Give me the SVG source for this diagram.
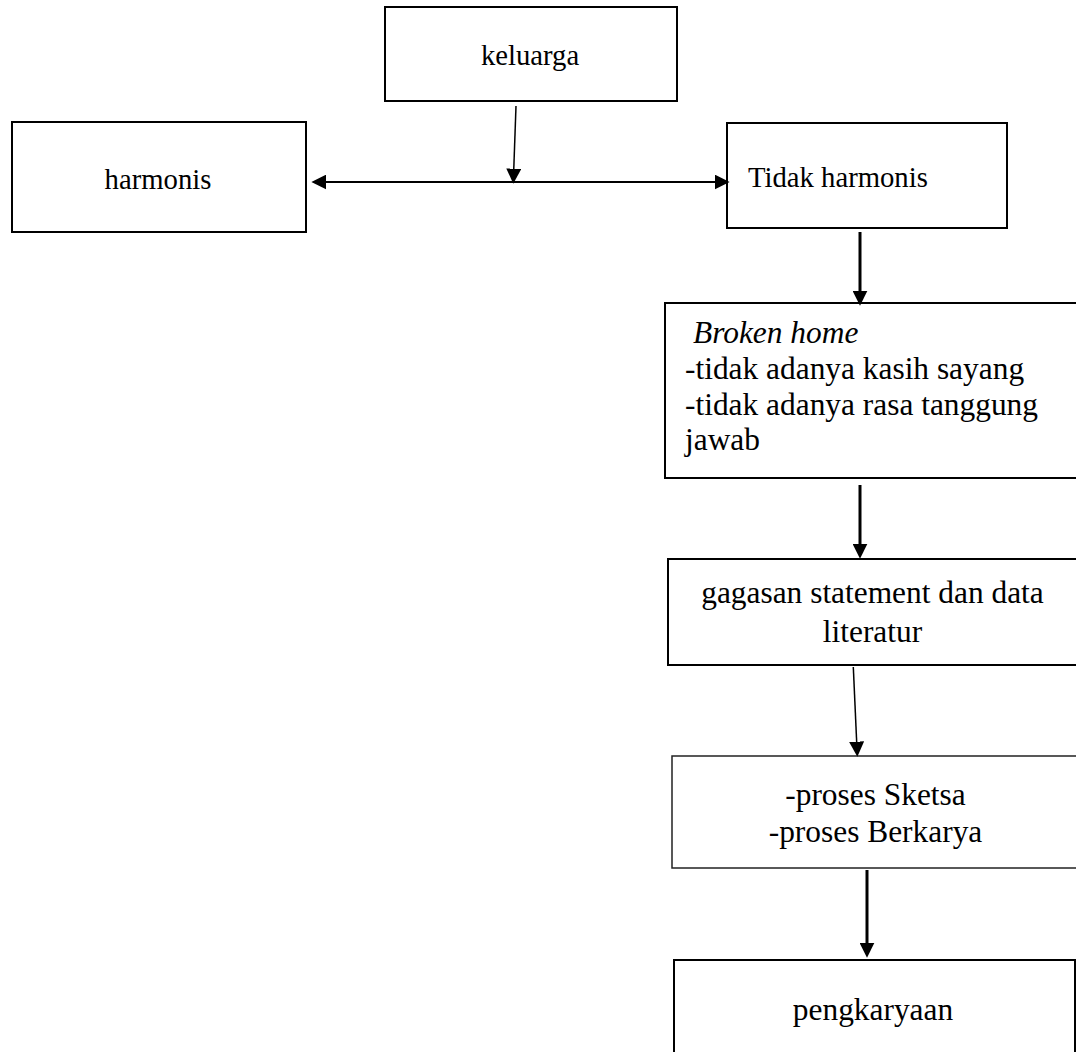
<svg xmlns="http://www.w3.org/2000/svg" width="1076" height="1052" viewBox="0 0 1076 1052">
<style>
.box{fill:#fff;stroke:#000;stroke-width:2}
.thin{stroke-width:1.5;stroke:#222}
.t{font-family:"Liberation Serif","Times New Roman",serif;fill:#000}
.s1{font-size:28.7px}
.s2{font-size:31.4px}
.c{stroke:#000;fill:none}
</style>
<defs>
<marker id="ah" markerUnits="userSpaceOnUse" markerWidth="15" markerHeight="15" viewBox="0 0 14 14" refX="5" refY="7" orient="auto-start-reverse">
<path d="M0,0 L14,7 L0,14 z" fill="#000"/>
</marker>
</defs>
<rect width="1076" height="1052" fill="#fff"/>
<g id="keluarga"><rect class="box" x="385" y="7" width="292" height="94"/><text class="t s1" x="530" y="65" text-anchor="middle">keluarga</text></g>
<g id="harmonis"><rect class="box" x="12" y="122" width="294" height="110"/><text class="t s1" x="158" y="189" text-anchor="middle">harmonis</text></g>
<g id="tidak-harmonis"><rect class="box" x="727" y="123" width="280" height="105"/><text class="t s1" x="748" y="187">Tidak harmonis</text></g>
<g id="broken-home"><rect class="box" x="665" y="303" width="430" height="175"/>
<text class="t s2" x="693" y="343" font-style="italic">Broken home</text>
<text class="t s2" x="685" y="379">-tidak adanya kasih sayang</text>
<text class="t s2" x="685" y="415">-tidak adanya rasa tanggung</text>
<text class="t s2" x="685" y="450">jawab</text></g>
<g id="gagasan"><rect class="box" x="668" y="559" width="430" height="106"/>
<text class="t s2" x="872.5" y="603" text-anchor="middle">gagasan statement dan data</text>
<text class="t s2" x="872.5" y="642" text-anchor="middle">literatur</text></g>
<g id="proses"><rect class="box thin" x="672" y="756" width="430" height="112"/>
<text class="t s2" x="875.5" y="805" text-anchor="middle">-proses Sketsa</text>
<text class="t s2" x="875.5" y="842" text-anchor="middle">-proses Berkarya</text></g>
<g id="pengkaryaan"><rect class="box" x="674" y="960" width="401" height="110"/>
<text class="t s2" x="873" y="1020" text-anchor="middle">pengkaryaan</text></g>
<g id="connectors">
<line class="c" x1="516" y1="106" x2="513.6" y2="174" stroke-width="1.5" marker-end="url(#ah)"/>
<line class="c" x1="321" y1="182" x2="720" y2="182" stroke-width="2" marker-start="url(#ah)" marker-end="url(#ah)"/>
<line class="c" x1="860" y1="232" x2="860" y2="296" stroke-width="3" marker-end="url(#ah)"/>
<line class="c" x1="860" y1="485" x2="860" y2="549" stroke-width="3" marker-end="url(#ah)"/>
<line class="c" x1="853.3" y1="667" x2="856.9" y2="747" stroke-width="1.5" marker-end="url(#ah)"/>
<line class="c" x1="867" y1="870" x2="867" y2="948" stroke-width="3" marker-end="url(#ah)"/>
</g>
</svg>
